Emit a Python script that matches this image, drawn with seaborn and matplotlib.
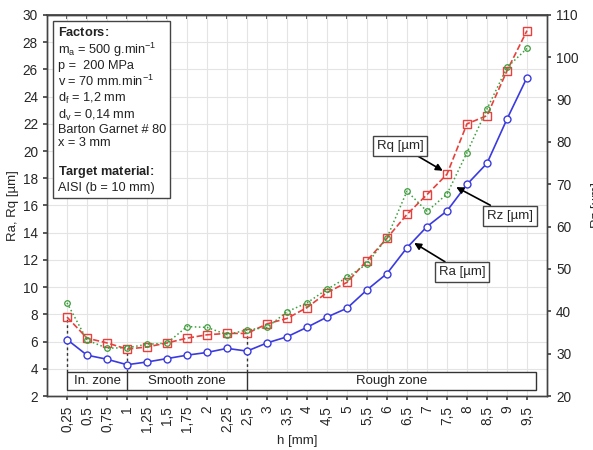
import numpy as np
import pandas as pd
import matplotlib.pyplot as plt
from matplotlib.patches import Rectangle
import seaborn as sns

sns.set_theme(style='ticks')
plt.rcParams['font.family'] = ['Liberation Sans', 'DejaVu Sans']
plt.rcParams['mathtext.fontset'] = 'custom'
plt.rcParams['mathtext.rm'] = 'Liberation Sans'
plt.rcParams['mathtext.it'] = 'Liberation Sans:italic'
plt.rcParams['mathtext.bf'] = 'Liberation Sans:bold'

# data
h_labels = ['0,25', '0,5', '0,75', '1', '1,25', '1,5', '1,75', '2', '2,25', '2,5',
            '3', '3,5', '4', '4,5', '5', '5,5', '6', '6,5', '7', '7,5', '8', '8,5', '9', '9,5']
ra = [6.15, 5.0, 4.7, 4.3, 4.5, 4.75, 5.0, 5.2, 5.5, 5.3, 5.9, 6.35,
      7.05, 7.8, 8.45, 9.8, 11.0, 12.9, 14.45, 15.6, 17.55, 19.1, 22.35, 25.4]
rq = [7.8, 6.25, 5.9, 5.45, 5.6, 5.9, 6.25, 6.5, 6.6, 6.6, 7.3, 7.7,
      8.5, 9.6, 10.35, 11.95, 13.6, 15.35, 16.8, 18.3, 22.0, 22.6, 25.9, 28.85]
rz = [42.0, 33.2, 31.3, 31.4, 32.2, 32.5, 36.4, 36.2, 34.5, 35.6, 36.2, 39.9,
      42.0, 45.2, 48.0, 51.2, 57.4, 68.4, 63.6, 67.7, 77.5, 87.8, 97.6, 102.1]

zone_edges = [0, 3, 9, 23.45]
zone_names = ['In. zone', 'Smooth zone', 'Rough zone']

factors_text = ("$\\bf{Factors\\!:}$\n"
                "m$_\\mathrm{a}$ = 500 g.min$^{-1}$\n"
                "p =  200 MPa\n"
                "v = 70 mm.min$^{-1}$\n"
                "d$_\\mathrm{f}$ = 1,2 mm\n"
                "d$_\\mathrm{v}$ = 0,14 mm\n"
                "Barton Garnet # 80\n"
                "x = 3 mm\n"
                "\n"
                "$\\bf{Target\\ material\\!:}$\n"
                "AISI (b = 10 mm)")

df = pd.DataFrame({'h': h_labels, 'Ra': ra, 'Rq': rq, 'Rz': rz})

c_ra, c_rq, c_rz = '#3a3ae0', '#e8403c', '#3c9e3c'
spine_c = '#444444'

fig = plt.figure(figsize=(5.93, 4.5), dpi=100)
ax = fig.add_axes([0.0793, 0.12, 0.8431, 0.8467])
ax2 = ax.twinx()

sns.pointplot(data=df, x='h', y='Ra', ax=ax, color=c_ra, markers='o', linestyles='-',
              errorbar=None, linewidth=1.2, markersize=5, markeredgewidth=1.0,
              markerfacecolor='white', zorder=4)
sns.pointplot(data=df, x='h', y='Rq', ax=ax, color=c_rq, markers='s', linestyles='--',
              errorbar=None, linewidth=1.2, markersize=5.5, markeredgewidth=1.0,
              markerfacecolor='none', zorder=4)
sns.pointplot(data=df, x='h', y='Rz', ax=ax2, color=c_rz, markers='o', linestyles=':',
              errorbar=None, linewidth=1.1, markersize=4, markeredgewidth=0.9,
              markerfacecolor='none', zorder=4)

ax.set_xlim(-1, 24)
ax.set_ylim(2, 30)
ax.set_yticks(range(2, 31, 2))
ax2.set_ylim(20, 110)
ax2.set_yticks(range(20, 111, 10))

ax.grid(True, color='#e4e4e4', lw=0.8)
ax.set_axisbelow(True)

ax.set_xlabel('h [mm]', fontsize=9.5, labelpad=2)
ax.set_ylabel('Ra, Rq [µm]', fontsize=9.5, labelpad=3)
ax2.set_ylabel('Rz [µm]', fontsize=9.5, labelpad=9)

ax.tick_params(axis='x', labelrotation=90, labelsize=9.8, length=3, pad=4, color=spine_c)
ax.tick_params(axis='y', labelsize=9.8, length=3, color=spine_c)
ax2.tick_params(axis='y', labelsize=9.8, length=3, color=spine_c)
top = ax.secondary_xaxis('top')
top.set_xticks(range(len(h_labels)))
top.set_xticklabels([])
top.tick_params(direction='in', length=3, color=spine_c)
top.spines['top'].set_color(spine_c)

for a in (ax, ax2):
    for s in a.spines.values():
        s.set_color(spine_c)
        s.set_linewidth(1.0)

# zone boxes along the bottom
y0, y1 = 2.45, 3.8
ax.add_patch(Rectangle((zone_edges[0], y0), zone_edges[-1] - zone_edges[0], y1 - y0,
                       fill=True, fc='white', ec='#333333', lw=1.0, zorder=3))
ax.vlines(zone_edges[1:3], y0, y1, color='#333333', lw=1.0, zorder=3)
for name, a, b in zip(zone_names, zone_edges[:-1], zone_edges[1:]):
    ax.text((a + b) / 2, (y0 + y1) / 2, name, ha='center', va='center', fontsize=9.5,
            color='#222222', zorder=5)
tops = [max(ra[i], rq[i]) for i in zone_edges[:3]]
ax.vlines(zone_edges[:3], y1, tops, color='#333333', lw=1.0, linestyles=(0, (2, 2)), zorder=3)

# factors box
ax.text(0.0214, 0.972, factors_text, transform=ax.transAxes, ha='left', va='top',
        fontsize=9.2, linespacing=1.15, color='#222222', zorder=6,
        bbox=dict(boxstyle='square,pad=0.35', fc='white', ec='#444444', lw=1.0))

# callouts
box = dict(boxstyle='square,pad=0.3', fc='white', ec='#444444', lw=1.0)
arrow = dict(arrowstyle='-|>', color='black', lw=1.2, mutation_scale=10, shrinkA=0, shrinkB=1)
ax.annotate('Rq [µm]', xy=(18.85, 18.5), xytext=(16.65, 20.4), ha='center', va='center',
            fontsize=9.5, bbox=box, arrowprops=arrow, zorder=6)
ax.annotate('Rz [µm]', xy=(19.4, 17.4), xytext=(22.15, 15.25), ha='center', va='center',
            fontsize=9.5, bbox=box, arrowprops=arrow, zorder=6)
ax.annotate('Ra [µm]', xy=(17.3, 13.3), xytext=(19.75, 11.1), ha='center', va='center',
            fontsize=9.5, bbox=box, arrowprops=arrow, zorder=6)

fig.savefig('out.png', dpi=100)
